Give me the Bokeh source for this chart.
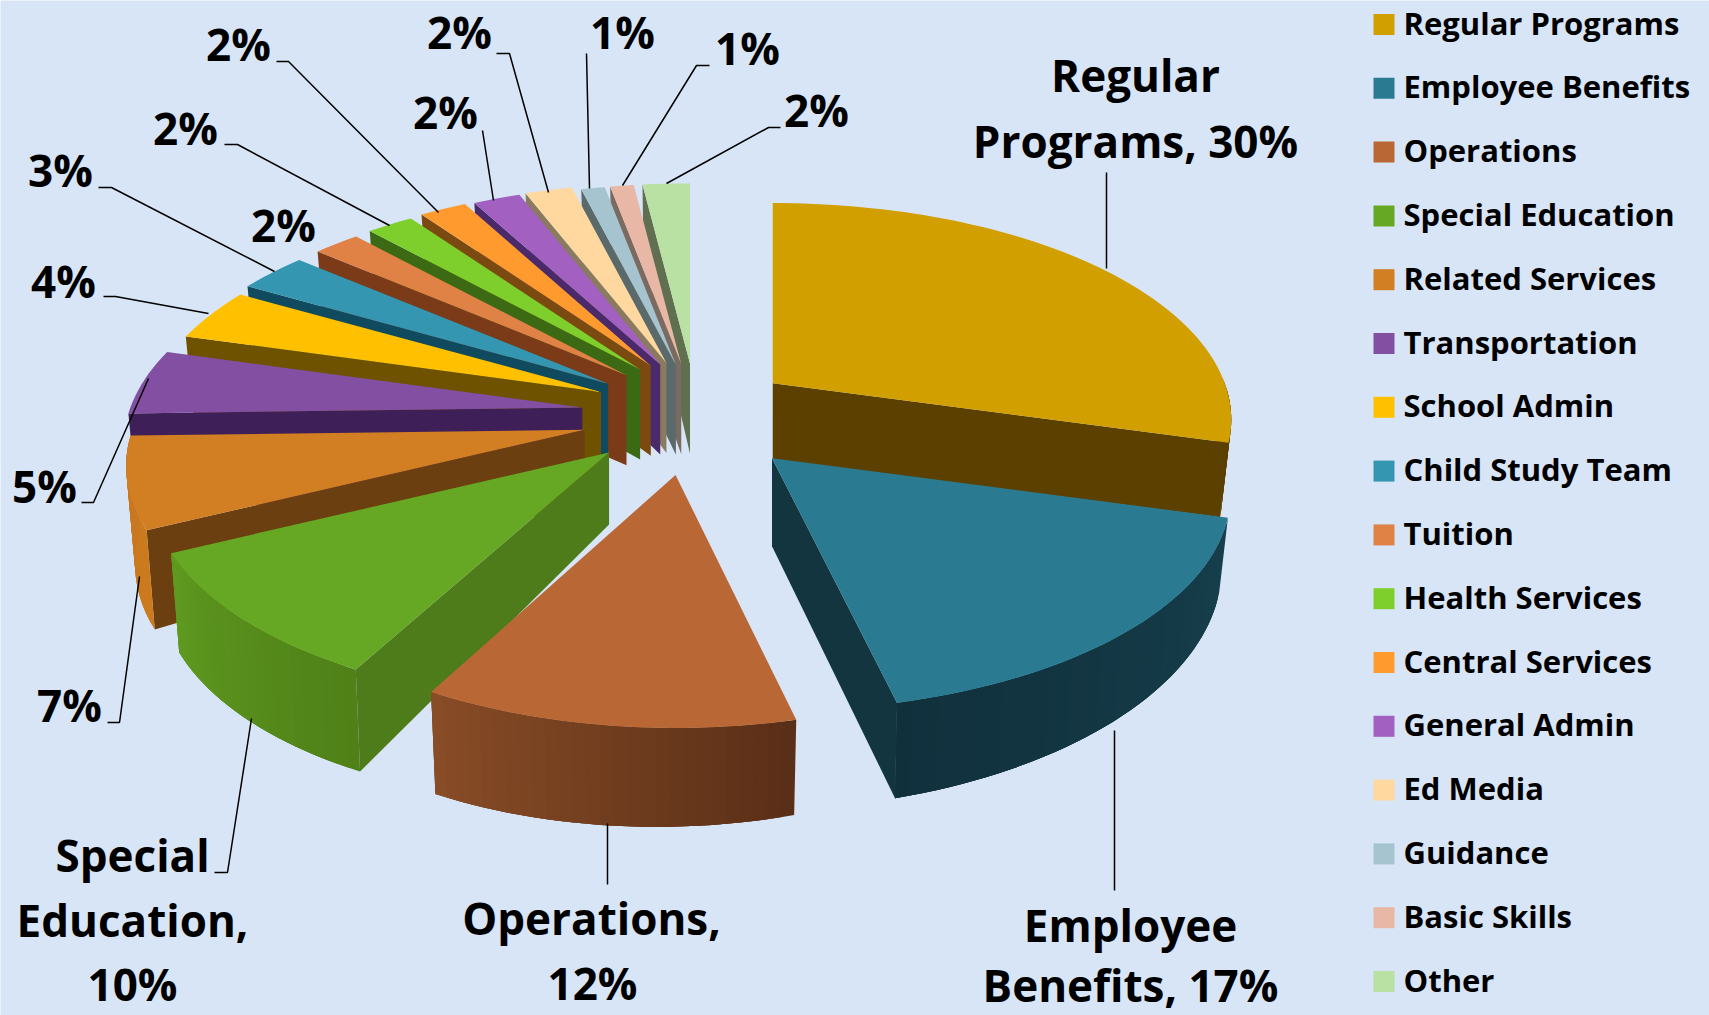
import math
from bokeh.plotting import figure
from bokeh.models import Range1d
from bokeh.core.properties import value
from bokeh.embed import file_html
from bokeh.resources import INLINE

# ---------- data ----------
categories = ["Regular Programs", "Employee Benefits", "Operations", "Special Education",
              "Related Services", "Transportation", "School Admin", "Child Study Team",
              "Tuition", "Health Services", "Central Services", "General Admin",
              "Ed Media", "Guidance", "Basic Skills", "Other"]
percents = [30, 17, 12, 10, 7, 5, 4, 3, 2, 2, 2, 2, 2, 1, 1, 2]
# unrounded shares as read from the slice edges
shares = [30, 17.3, 11.9, 10, 7, 5, 4, 3, 2, 2, 2, 2, 2, 1, 1, 2]
top_colors = ["#D19F00", "#2A7B91", "#B96835", "#66A823", "#D27E23", "#834FA2", "#FFC000", "#3496B0",
              "#E08145", "#7ECE2C", "#FF9A2E", "#A260C0", "#FFD8A0", "#A5C4D0", "#E9B7A5", "#B9E1A3"]
edge_colors = ["#5C4000", "#12353F", "#5E3217", "#4E7C1A", "#6B3F10", "#3F1F57", "#6E5200", "#0F4A5E",
               "#7B3A18", "#3C6A14", "#7A4A10", "#4A2A6A", "#8A7A60", "#5A6A6A", "#7A6A60", "#5F6F50"]
rim_start = ["#5C4000", "#173F4C", "#5A2F17", "#4F8118", "#CC7A1E", "#3F1F57", "#6E5200", "#0F4A5E",
             "#7B3A18", "#3C6A14", "#7A4A10", "#4A2A6A", "#8A7A60", "#5A6A6A", "#7A6A60", "#5F6F50"]
rim_end = ["#5C4000", "#10303C", "#8A4D27", "#5F9A20", "#C87820", "#3F1F57", "#6E5200", "#0F4A5E",
           "#7B3A18", "#3C6A14", "#7A4A10", "#4A2A6A", "#8A7A60", "#5A6A6A", "#7A6A60", "#5F6F50"]

# ---------- layout (reference pixel coordinates) ----------
W, H = 1709, 1015
BG = "#D7E5F6"
FONT = "Open Sans"
CX, CY = 684, 418          # pie centre before the slices are pulled out
EX_L, EX_R, EY = 106, 122, 55   # explosion
A, B, K = 452, 210.5, 0.168      # perspective of the disc
DEPTH = 82
nudge_x = [-9, 3, 5, 1, 3, 3, 14, 10, 18, 22, 22, 20, 14, 14, 13, 12]
nudge_y = [-2, 0, 2, -4, -2, -4, -5, -3, -5, -6, -6, -4, -3, 0, 0, 0]
apex_depth = [76, 88, 72, 72, 72, 90, 90, 90, 90, 90, 90, 90, 90, 90, 90, 90]
width_scale = [1, 1, 0.965, 1, 1, 1, 1, 1, 1, 1, 1, 1, 1, 1, 1, 1]
TEXT_DY = -2

label_lines = {
    0: (["Regular", "Programs, 30%"], [(1135, 76), (1135, 142)]),
    1: (["Employee", "Benefits, 17%"], [(1130, 926), (1130, 986)]),
    2: (["Operations,", "12%"], [(591, 919), (592, 984)]),
    3: (["Special", "Education,", "10%"], [(132, 856), (132, 921), (132, 985)]),
    4: (None, [(69, 706)]), 5: (None, [(44, 487)]), 6: (None, [(63, 282)]), 7: (None, [(60, 171)]),
    8: (None, [(283, 226)]), 9: (None, [(185, 129)]), 10: (None, [(238, 45)]), 11: (None, [(445, 113)]),
    12: (None, [(459, 33)]), 13: (None, [(622, 33)]), 14: (None, [(747, 49)]), 15: (None, [(816, 111)]),
}
leaders = [
    [(1106, 172), (1106, 268)], [(1114, 890), (1114, 730)], [(607, 884), (607, 823)],
    [(214, 872), (227, 872), (251, 718)], [(107, 722), (119, 722), (139, 576)],
    [(81, 502), (93, 502), (148, 378)], [(103, 296), (115, 296), (208, 313)],
    [(98, 187), (111, 187), (274, 271)], [(224, 144), (237, 144), (389, 225)],
    [(276, 61), (288, 61), (438, 212)], [(482, 130), (493, 200)],
    [(496, 53), (509, 53), (548, 192)], [(586, 53), (589, 188)],
    [(709, 65), (696, 65), (622, 185)], [(780, 127), (768, 127), (666, 183)],
]
LEG_X, LEG_TX, LEG_Y0, LEG_DY, LEG_S = 1383.5, 1403, 24, 63.8, 21


def mix(c1, c2, t):
    a = [int(c1[i:i + 2], 16) for i in (1, 3, 5)]
    b = [int(c2[i:i + 2], 16) for i in (1, 3, 5)]
    return "#%02X%02X%02X" % tuple(round(x + (y - x) * t) for x, y in zip(a, b))


def proj(t, scale=1.0):
    """Offset from a slice's apex of the rim point at clockwise angle t, top and bottom."""
    s, c = math.sin(t), math.cos(t)
    w = 1 + K * c
    u, v = scale * A * s / w, -B * c / w
    d = DEPTH / w - 12 * s
    return u, v, u - 9 * s, v + d


total = sum(shares)
slices = []
acc = 0.0
for i, share in enumerate(shares):
    t0 = acc / total * 2 * math.pi
    acc += share
    t1 = acc / total * 2 * math.pi
    mid = (t0 + t1) / 2
    ex = EX_L if math.sin(mid) < 0 else EX_R
    ax, ay = CX + ex * math.sin(mid) + nudge_x[i], CY - EY * math.cos(mid) + nudge_y[i]
    slices.append((i, t0, t1, mid, ax, ay, apex_depth[i]))

xs, ys, fills = [], [], []


def add(poly, col):
    xs.append([q[0] for q in poly])
    ys.append([q[1] for q in poly])
    fills.append(col)


for i, t0, t1, mid, ax, ay, ad in sorted(slices, key=lambda r: -math.cos(r[3])):
    sc = width_scale[i]
    # radial walls facing the viewer
    for t, vis in ((t0, math.sin(t0) < -1e-6), (t1, math.sin(t1) > 1e-6)):
        if vis:
            u, v, ub, vb = proj(t, sc)
            add([(ax + u, ay + v), (ax, ay), (ax, ay + ad), (ax + ub, ay + vb)], edge_colors[i])
    # outer wall, shaded along the arc: each band runs under the next to hide seams
    n = max(3, int((t1 - t0) / math.radians(1.5)))
    ang = [t0 + (t1 - t0) * j / n for j in range(n + 1)]
    for j in range(n):
        k = min(n, j + 3)
        if math.cos(ang[j]) < 0.03 and math.cos(ang[k]) < 0.03:
            arc = [proj(ang[m], sc) for m in range(j, k + 1)]
            add([(ax + q[0], ay + q[1]) for q in arc] + [(ax + q[2], ay + q[3]) for q in reversed(arc)],
                mix(rim_start[i], rim_end[i], j / n))
    # top face
    poly = [(ax, ay)]
    for a in ang:
        u, v, _, _ = proj(a, sc)
        poly.append((ax + u, ay + v))
    add(poly, top_colors[i])

p = figure(width=W, height=H, x_range=Range1d(0, W), y_range=Range1d(H, 0),
           output_backend="svg", toolbar_location=None, min_border=0,
           background_fill_color=BG, border_fill_color=BG, outline_line_color=None)
p.axis.visible = False
p.grid.visible = False

p.patches(xs, ys, fill_color=fills, line_color=None)

for pts in leaders:
    p.line([q[0] for q in pts], [q[1] for q in pts], line_color="#000000", line_width=1.5)

tx, ty, tt = [], [], []
for i, (lines, pos) in label_lines.items():
    lines = lines or [f"{percents[i]}%"]
    for s, (x, y) in zip(lines, pos):
        tx.append(x); ty.append(y + TEXT_DY); tt.append(s)
p.text(tx, ty, text=tt, text_font=value(FONT), text_font_style="bold", text_font_size="44px",
       text_align="center", text_baseline="middle", text_color="#000000")

ly = [LEG_Y0 + LEG_DY * i for i in range(len(categories))]
p.rect([LEG_X] * len(categories), ly, width=LEG_S, height=LEG_S, fill_color=top_colors, line_color=None)
p.text([LEG_TX] * len(categories), [y + TEXT_DY for y in ly], text=categories, text_font=value(FONT),
       text_font_style="bold", text_font_size="31px", text_align="left", text_baseline="middle",
       text_color="#000000")

open("out.html", "w").write(file_html(p, INLINE))
